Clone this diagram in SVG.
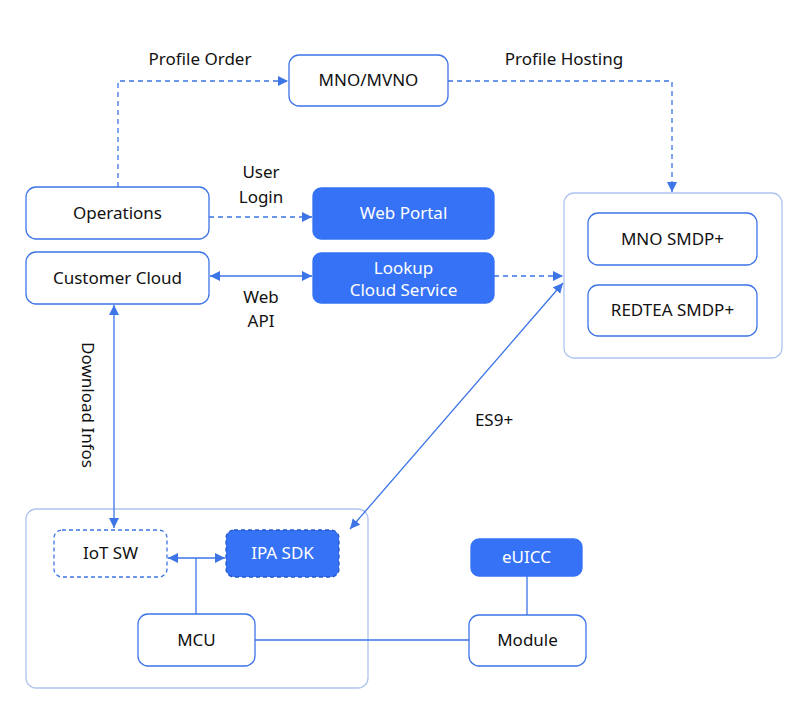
<svg xmlns="http://www.w3.org/2000/svg" width="807" height="720" viewBox="0 0 807 720">
<defs>
<style>
.box{fill:#fff;stroke:#3D74E6;stroke-width:1.3}
.blue{fill:#3672F5;stroke:#3672F5;stroke-width:1.3}
.cont{fill:none;stroke:#AFC4EE;stroke-width:1.3}
.dbox{fill:#fff;stroke:#3D74E6;stroke-width:1.3;stroke-dasharray:4 3}
.dblue{fill:#3672F5;stroke:#2558C8;stroke-width:1.3;stroke-dasharray:4 3}
text{font-family:"Noto Sans","Liberation Sans",sans-serif;font-size:17px;fill:#111;text-anchor:middle}
.w{fill:#fff}
.ln{fill:none;stroke:#3D74E6;stroke-width:1.3}
.dl{fill:none;stroke:#3D74E6;stroke-width:1.3;stroke-dasharray:5 4}
</style>
<marker id="ah" viewBox="0 0 10 10" refX="10" refY="5" markerWidth="10" markerHeight="10" markerUnits="userSpaceOnUse" orient="auto-start-reverse">
<path d="M0,0 L10,5 L0,10 z" fill="#3D74E6"/>
</marker>
</defs>
<rect width="807" height="720" fill="#fff"/>

<g id="containers">
<rect class="cont" x="564" y="193" width="218" height="165" rx="10"/>
<rect class="cont" x="26" y="509" width="342" height="179" rx="10"/>
</g>

<g id="connectors">
<path class="dl" d="M118,187 V81 H288" marker-end="url(#ah)"/>
<path class="dl" d="M448,81 H672 V192" marker-end="url(#ah)"/>
<path class="dl" d="M209,217 H312" marker-end="url(#ah)"/>
<path class="ln" d="M210,276 H312" marker-start="url(#ah)" marker-end="url(#ah)"/>
<path class="dl" d="M494,276 H563" marker-end="url(#ah)"/>
<path class="ln" d="M563,283 L350,529" marker-start="url(#ah)" marker-end="url(#ah)"/>
<path class="ln" d="M114,305 V528" marker-start="url(#ah)" marker-end="url(#ah)"/>
<path class="ln" d="M168,558 H225" marker-start="url(#ah)" marker-end="url(#ah)"/>
<path class="ln" d="M196,558 V614"/>
<path class="ln" d="M255,640 H469"/>
<path class="ln" d="M527,576 V615"/>
<text x="200" y="65">Profile Order</text>
<text x="564" y="65">Profile Hosting</text>
<text x="261" y="178">User</text>
<text x="261" y="203">Login</text>
<text x="261" y="303">Web</text>
<text x="261" y="327">API</text>
<text x="494" y="426">ES9+</text>
<text transform="translate(82,405) rotate(90)">Download Infos</text>
</g>

<g id="mno"><rect class="box" x="289" y="55" width="159" height="51" rx="10"/><text x="368.5" y="86">MNO/MVNO</text></g>
<g id="operations"><rect class="box" x="26" y="187" width="183" height="52" rx="10"/><text x="117.5" y="219">Operations</text></g>
<g id="webportal"><rect class="blue" x="313" y="188" width="181" height="51" rx="8"/><text class="w" x="403.5" y="219">Web Portal</text></g>
<g id="customercloud"><rect class="box" x="26" y="252" width="183" height="52" rx="10"/><text x="117.5" y="284">Customer Cloud</text></g>
<g id="lookup"><rect class="blue" x="313" y="253" width="181" height="50" rx="8"/><text class="w" x="403.5" y="274">Lookup</text><text class="w" x="403.5" y="296">Cloud Service</text></g>
<g id="mnosmdp"><rect class="box" x="588" y="213" width="169" height="52" rx="10"/><text x="672.5" y="245">MNO SMDP+</text></g>
<g id="redteasmdp"><rect class="box" x="588" y="285" width="169" height="51" rx="10"/><text x="672.5" y="316">REDTEA SMDP+</text></g>
<g id="iotsw"><rect class="dbox" x="54" y="530" width="113" height="47" rx="8"/><text x="110.5" y="559">IoT SW</text></g>
<g id="ipasdk"><rect class="dblue" x="226" y="530" width="113" height="47" rx="8"/><text class="w" x="282.5" y="559">IPA SDK</text></g>
<g id="mcu"><rect class="box" x="138" y="614" width="117" height="52" rx="10"/><text x="196.5" y="646">MCU</text></g>
<g id="euicc"><rect class="blue" x="471" y="539" width="111" height="37" rx="8"/><text class="w" x="526.5" y="563">eUICC</text></g>
<g id="module"><rect class="box" x="469" y="615" width="117" height="51" rx="10"/><text x="527.5" y="646">Module</text></g>
</svg>
